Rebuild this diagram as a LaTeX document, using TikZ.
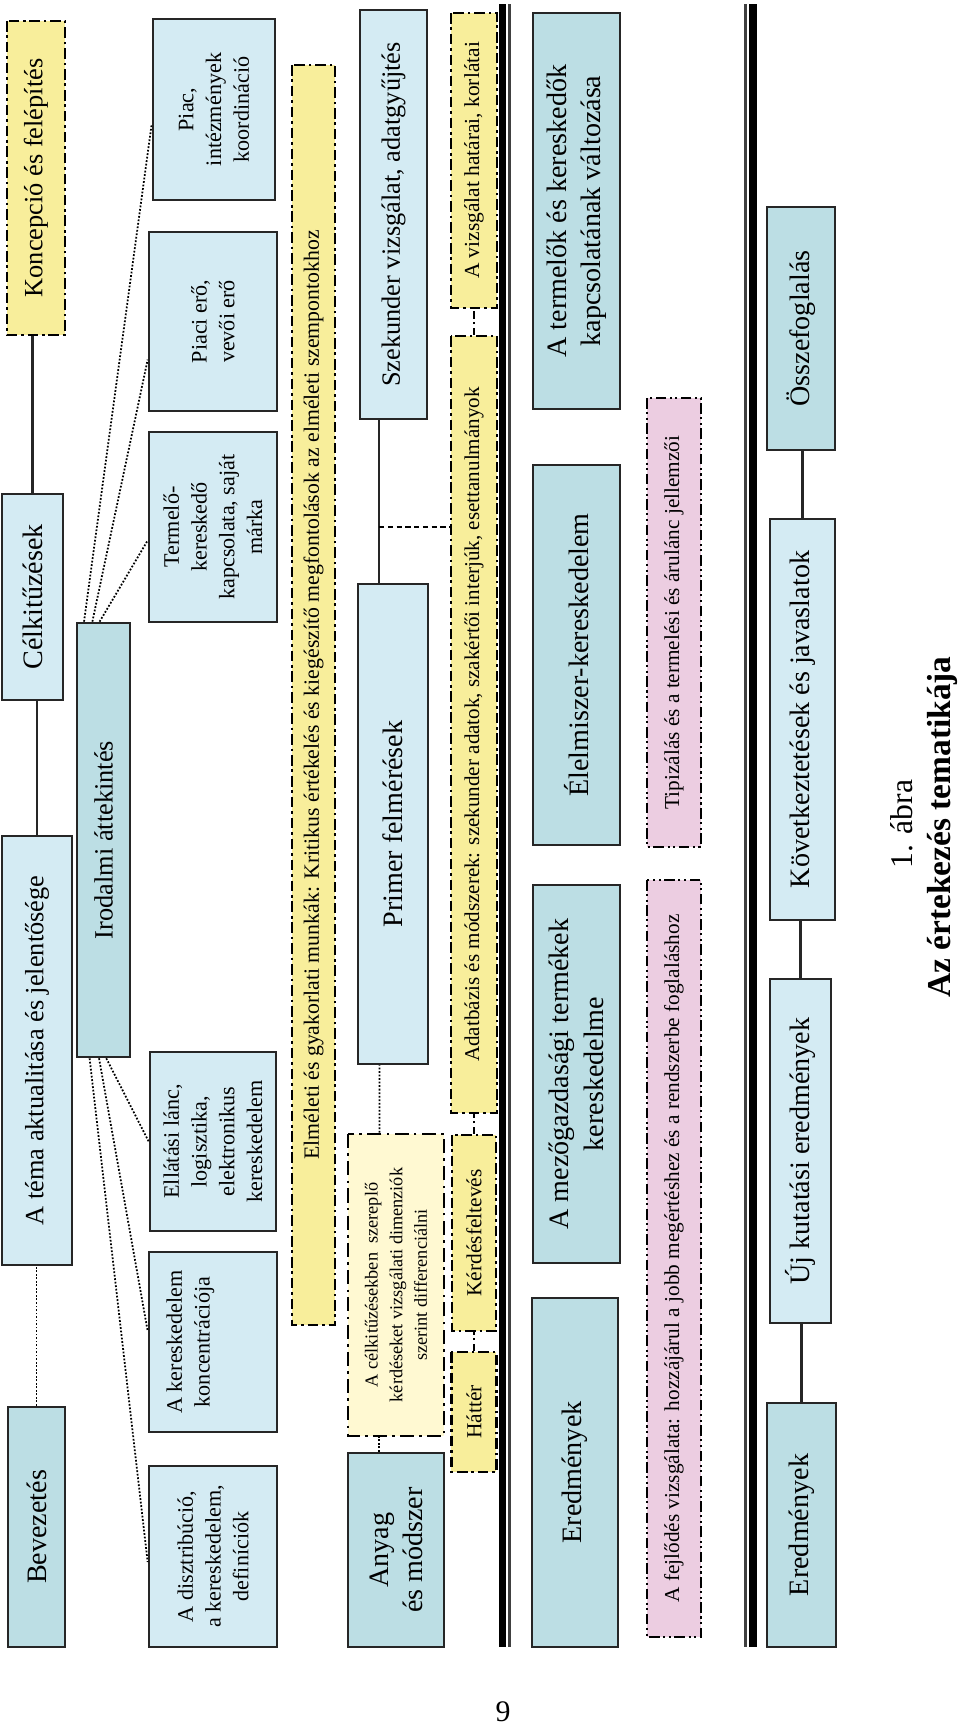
\documentclass[tikz,border=0pt]{standalone}
\usepackage{fontspec}
\setmainfont{Liberation Serif}
\usepackage{xcolor}
\usepackage{tikz}
\usetikzlibrary{calc}

\definecolor{boxblue}{HTML}{D4EBF3}
\definecolor{boxteal}{HTML}{BCDEE4}
\definecolor{boxyellow}{HTML}{F8EE9B}
\definecolor{paleyellow}{HTML}{FFF9D2}
\definecolor{boxpink}{HTML}{ECCDE1}
\definecolor{frame}{HTML}{262626}

\begin{document}
\begin{tikzpicture}[
    rotate=90, transform shape,
    bluebox/.style={draw=frame, fill=boxblue, line width=1.5pt, align=center, inner sep=1pt},
    tealbox/.style={bluebox, fill=boxteal},
    notebox/.style={draw=black, fill=boxyellow, line width=1.5pt, dash pattern=on 6pt off 2.2pt on 1.5pt off 2.2pt, align=center, inner sep=1pt},
    palebox/.style={notebox, fill=paleyellow, dash pattern=on 8pt off 3pt on 1.5pt off 3pt},
    pinkbox/.style={notebox, fill=boxpink, dash pattern=on 6pt off 2pt on 1.2pt off 2pt on 1.2pt off 2pt},
    bigtext/.style={font=\fontsize{16}{19.5}\selectfont},
    midtext/.style={font=\fontsize{15}{18}\selectfont},
    subtext/.style={font=\fontsize{12.6}{15.8}\selectfont},
    notetext/.style={font=\fontsize{12.2}{15}\selectfont},
    smalltext/.style={font=\fontsize{10.4}{14}\selectfont},
    link/.style={draw=frame, line width=1.2pt},
    dotlink/.style={draw=black, line width=1pt, densely dotted},
    dashlink/.style={draw=black, line width=1.2pt, dash pattern=on 3pt off 2pt},
    notelink/.style={draw=black, line width=1.2pt, dash pattern=on 4pt off 2pt on 1.2pt off 2pt}
]
    \useasboundingbox (0,0) rectangle (34.54,19.2);

    % first row: chapters
    \node[notebox, midtext, minimum width=6.28cm, minimum height=1.16cm] (konc) at (30.98,18.48) {Koncepció és felépítés};
    \node[bluebox, bigtext, minimum width=4.12cm, minimum height=1.22cm] (celk) at (22.60,18.55) {Célkitűzések};
    \node[bluebox, midtext, minimum width=8.58cm, minimum height=1.40cm] (tema) at (13.53,18.46) {A téma aktualitása és jelentősége};
    \node[tealbox, bigtext, minimum width=4.80cm, minimum height=1.14cm] (bev) at (4.00,18.47) {Bevezetés};

    \draw[link] (celk.east) -- (celk.east -| konc.west);
    \draw[link] (tema.east) -- (tema.east -| celk.west);
    \draw[dotlink] (bev.east) -- (bev.east -| tema.west);

    % literature review
    \node[tealbox, midtext, minimum width=8.68cm, minimum height=1.06cm] (irod) at (17.74,17.13) {Irodalmi áttekintés};

    \node[bluebox, subtext, minimum width=3.62cm, minimum height=2.44cm] (piac) at (32.35,14.92) {Piac,\\intézmények\\koordináció};
    \node[bluebox, subtext, minimum width=3.58cm, minimum height=2.56cm] (piaci) at (28.11,14.94) {Piaci erő,\\vevői erő};
    \node[bluebox, subtext, minimum width=3.80cm, minimum height=2.56cm] (term) at (24.00,14.94) {Termelő-\\kereskedő\\kapcsolata, saját\\márka};
    \node[bluebox, subtext, minimum width=3.58cm, minimum height=2.52cm] (ellat) at (11.71,14.94) {Ellátási lánc,\\logisztika,\\elektronikus\\kereskedelem};
    \node[bluebox, subtext, minimum width=3.60cm, minimum height=2.56cm, text depth=1.0cm] (keresk) at (7.70,14.94) {A kereskedelem\\koncentrációja};
    \node[bluebox, subtext, minimum width=3.62cm, minimum height=2.56cm] (disz) at (3.41,14.94) {A disztribúció,\\a kereskedelem,\\definíciók};

    \foreach \tgt/\st/\en in {piac/0.15/0.42, piaci/0.3/0.29, term/0.43/0.43}
        \draw[dotlink] ($(irod.north east)!\st!(irod.south east)$) -- ($(\tgt.north west)!\en!(\tgt.north east)$);
    \foreach \tgt/\st/\en in {disz/0.25/0.47, keresk/0.42/0.56, ellat/0.55/0.5}
        \draw[dotlink] ($(irod.north west)!\st!(irod.south west)$) -- ($(\tgt.north west)!\en!(\tgt.north east)$);

    \node[notebox, font=\fontsize{12.4}{15}\selectfont, minimum width=25.2cm, minimum height=0.86cm] (elm) at (20.64,12.93) {Elméleti és gyakorlati munkák: Kritikus értékelés és kiegészítő megfontolások az elméleti szempontokhoz};

    % material and method
    \node[bluebox, midtext, minimum width=8.18cm, minimum height=1.34cm] (szek) at (30.25,11.33) {Szekunder vizsgálat, adatgyűjtés};
    \node[bluebox, bigtext, minimum width=9.60cm, minimum height=1.40cm] (prim) at (18.06,11.34) {Primer felmérések};
    \node[palebox, smalltext, minimum width=6.04cm, minimum height=1.92cm] (kerd) at (8.84,11.28) {A célkitűzésekben\ \ szereplő\\kérdéseket vizsgálati dimenziók\\szerint differenciálni};
    \node[tealbox, bigtext, minimum width=3.88cm, minimum height=1.92cm] (anyag) at (3.54,11.28) {Anyag\\és módszer};

    \draw[link] ($(prim.east)+(0,0.28)$) coordinate (pa) -- ($(szek.west)+(0,0.29)$) coordinate (pb);
    \coordinate (split) at ($(pa)!0.345!(pb)$);
    \draw[dotlink] ($(kerd.east)+(0,0.33)$) -- ($(prim.west)+(0,0.27)$);
    \draw[dotlink] ($(anyag.east)+(0,0.34)$) -- ($(kerd.west)+(0,0.34)$);

    \node[notebox, notetext, minimum width=5.90cm, minimum height=0.92cm] (hat) at (31.33,9.72) {A vizsgálat határai, korlátai};
    \node[notebox, font=\fontsize{12}{15}\selectfont, minimum width=15.54cm, minimum height=0.92cm] (adat) at (20.05,9.72) {Adatbázis és módszerek: szekunder adatok, szakértői interjúk, esettanulmányok};
    \node[notebox, notetext, minimum width=3.92cm, minimum height=0.88cm] (kfel) at (9.88,9.72) {Kérdésfeltevés};
    \node[notebox, notetext, minimum width=2.40cm, minimum height=0.90cm] (hatt) at (6.30,9.72) {Háttér};

    \draw[dashlink] (split) -- (split |- adat.north);
    \draw[notelink] (adat.east) -- (adat.east -| hat.west);
    \draw[notelink] (kfel.east) -- (kfel.east -| adat.west);
    \draw[notelink] (hatt.east) -- (hatt.east -| kfel.west);

    % separators
    \draw[line width=0.14cm, black] (1.6,9.14) -- (34.46,9.14);
    \draw[line width=0.06cm, black!75] (1.6,9.0) -- (34.46,9.0);

    % results
    \node[tealbox, bigtext, minimum width=6.98cm, minimum height=1.72cm] (ered1) at (5.09,7.70) {Eredmények};
    \node[tealbox, bigtext, minimum width=7.56cm, minimum height=1.74cm] (mezo) at (13.06,7.67) {A mezőgazdasági termékek\\kereskedelme};
    \node[tealbox, bigtext, minimum width=7.60cm, minimum height=1.74cm] (elel) at (21.44,7.67) {Élelmiszer-kereskedelem};
    \node[tealbox, bigtext, minimum width=7.92cm, minimum height=1.74cm] (termk) at (30.32,7.67) {A termelők és kereskedők\\kapcsolatának változása};

    \node[pinkbox, font=\fontsize{12.1}{14}\selectfont, minimum width=15.14cm, minimum height=1.08cm] (fejl) at (9.37,5.72) {A fejlődés vizsgálata: hozzájárul a jobb megértéshez és a rendszerbe foglaláshoz};
    \node[pinkbox, font=\fontsize{12.1}{14}\selectfont, minimum width=8.98cm, minimum height=1.08cm] (tipiz) at (22.09,5.72) {Tipizálás és a termelési és árulánc jellemzői};

    \draw[line width=0.16cm, black] (1.6,4.14) -- (34.46,4.14);
    \draw[line width=0.06cm, black!75] (1.6,4.29) -- (34.46,4.29);

    % conclusions
    \node[tealbox, bigtext, minimum width=4.86cm, minimum height=1.36cm] (ossz) at (27.97,3.18) {Összefoglalás};
    \node[bluebox, bigtext, minimum width=8.02cm, minimum height=1.30cm] (kov) at (20.15,3.15) {Következtetések és javaslatok};
    \node[bluebox, bigtext, minimum width=6.88cm, minimum height=1.22cm] (uj) at (11.52,3.19) {Új kutatási eredmények};
    \node[tealbox, bigtext, minimum width=4.88cm, minimum height=1.38cm] (ered2) at (4.04,3.17) {Eredmények};

    \draw[link] (kov.east) -- (kov.east -| ossz.west);
    \draw[link] (uj.east) -- (uj.east -| kov.west);
    \draw[link] (ered2.east) -- (ered2.east -| uj.west);

    % caption
    \node[font=\fontsize{18}{22}\selectfont] (abra) at (18.06,1.17) {1. ábra};
    \node[font=\fontsize{19}{23}\selectfont\bfseries] (cim) at (18.0,0.36) {Az értekezés tematikája};

    \node[rotate=-90, font=\fontsize{17}{20}\selectfont] (oldal) at (0.3,9.14) {9};
\end{tikzpicture}
\end{document}
